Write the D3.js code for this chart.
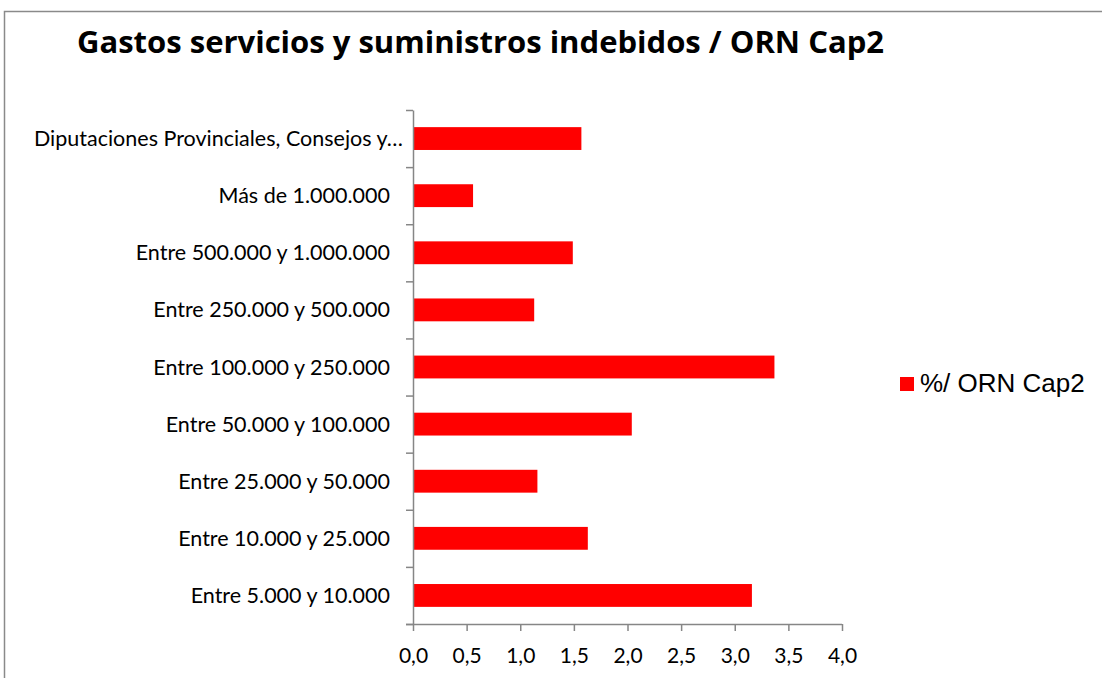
<!DOCTYPE html>
<html>
<head>
<meta charset="utf-8">
<script src="https://cdn.jsdelivr.net/npm/d3@7"></script>
<style>
  body { margin: 0; background: #fff; }
  .axis path, .axis line { stroke: #868686; stroke-width: 1.5; }
  .axis text { font-family: Lato, "Open Sans", sans-serif; font-size: 21px; fill: #000; }
</style>
</head>
<body>
<script>
// categories from top to bottom as shown
const categories = [
  "Diputaciones Provinciales, Consejos y…",
  "Más de 1.000.000",
  "Entre 500.000 y 1.000.000",
  "Entre 250.000 y 500.000",
  "Entre 100.000 y 250.000",
  "Entre 50.000 y 100.000",
  "Entre 25.000 y 50.000",
  "Entre 10.000 y 25.000",
  "Entre 5.000 y 10.000"
];
const values = [1.57, 0.56, 1.49, 1.13, 3.37, 2.04, 1.16, 1.63, 3.16];
const xTicks = [0, 0.5, 1, 1.5, 2, 2.5, 3, 3.5, 4];
const seriesName = "%/ ORN Cap2";
const title = "Gastos servicios y suministros indebidos / ORN Cap2";

const w = 1102, h = 678;
const plotLeft = 413, plotRight = 842, plotTop = 110, plotBottom = 624;

const svg = d3.select("body").append("svg")
  .attr("width", w)
  .attr("height", h);

// chart frame
svg.append("rect")
  .attr("x", 4.5).attr("y", 11.5)
  .attr("width", w + 10).attr("height", h + 10)
  .attr("fill", "none")
  .attr("stroke", "#8a8a8a")
  .attr("stroke-width", 1.5);

// title
svg.append("text")
  .attr("x", 77).attr("y", 53)
  .attr("font-family", "'Open Sans', sans-serif")
  .attr("font-weight", "bold")
  .attr("font-size", 29.5)
  .attr("textLength", 807)
  .attr("lengthAdjust", "spacingAndGlyphs")
  .attr("fill", "#000")
  .text(title);

const x = d3.scaleLinear().domain([0, 4]).range([plotLeft, plotRight]);
// bars centred between the category ticks
const y = d3.scaleBand().domain(categories).range([plotTop, plotBottom]).paddingInner(0.6).paddingOuter(0.3);
const yEdge = d3.scaleLinear().domain([0, categories.length]).range([plotTop, plotBottom]);

const locale = d3.formatLocale({ decimal: ",", thousands: ".", grouping: [3], currency: ["", "€"] });

// bars
svg.selectAll("rect.bar")
  .data(values)
  .enter()
  .append("rect")
  .attr("class", "bar")
  .attr("x", x(0) + 1)
  .attr("y", (d, i) => y(categories[i]))
  .attr("width", d => x(d) - x(0) - 1)
  .attr("height", y.bandwidth())
  .attr("fill", "#ff0000");

// y axis with ticks on category boundaries
svg.append("g")
  .attr("class", "axis")
  .attr("transform", "translate(" + plotLeft + ",0)")
  .call(d3.axisLeft(yEdge).tickValues(d3.range(categories.length + 1)).tickFormat("").tickSize(7).tickSizeOuter(0));

// category labels
svg.append("g")
  .selectAll("text")
  .data(categories)
  .enter()
  .append("text")
  .attr("x", (d, i) => i === 0 ? 403 : 390)
  .attr("y", d => y(d) + y.bandwidth() / 2)
  .attr("dy", "0.35em")
  .attr("text-anchor", "end")
  .attr("font-family", "Lato, 'Open Sans', sans-serif")
  .attr("font-size", 21.5)
  .attr("fill", "#000")
  .text(d => d);

// x axis
const xAxis = svg.append("g")
  .attr("class", "axis")
  .attr("transform", "translate(0," + plotBottom + ")")
  .call(d3.axisBottom(x).tickValues(xTicks).tickFormat(locale.format(".1f")).tickSize(7).tickSizeOuter(0).tickPadding(17));
xAxis.select(".domain").attr("d", "M" + (plotLeft - 7) + ",0.5H" + plotRight);

// legend
svg.append("rect")
  .attr("x", 900).attr("y", 377)
  .attr("width", 14).attr("height", 14)
  .attr("fill", "#ff0000");
svg.append("text")
  .attr("x", 920).attr("y", 392)
  .attr("font-family", "'Liberation Sans', Arial, sans-serif")
  .attr("font-size", 26)
  .attr("fill", "#000")
  .text(seriesName);
</script>
</body>
</html>
